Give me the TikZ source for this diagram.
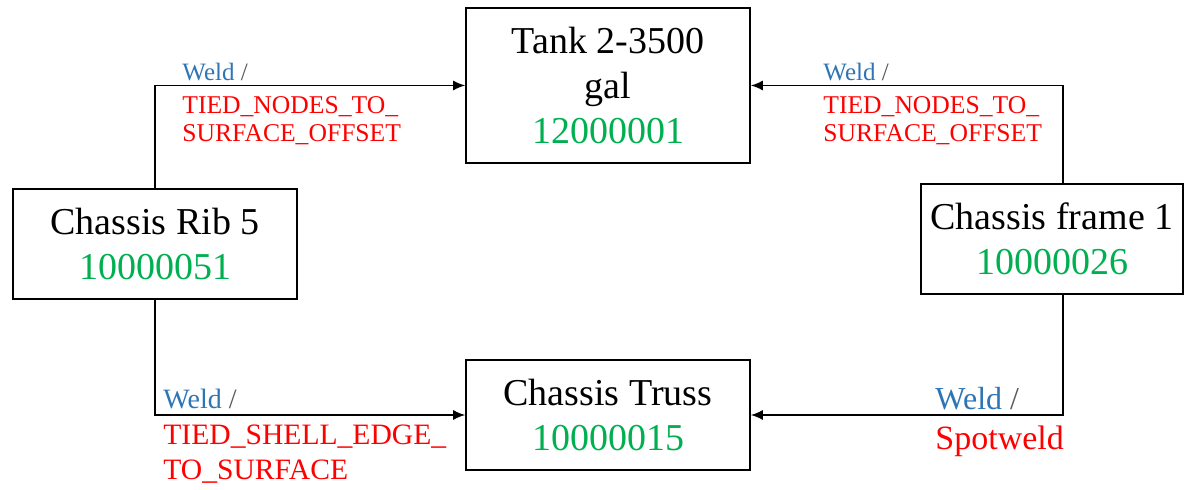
\documentclass[tikz,border=0pt]{standalone}
\usepackage{fontspec}
\setmainfont{Liberation Serif}
\usetikzlibrary{positioning, arrows.meta}
\definecolor{weldblue}{RGB}{46,117,182}
\definecolor{idgreen}{RGB}{0,176,80}
\definecolor{typered}{RGB}{255,0,0}
\definecolor{slashgray}{RGB}{89,89,89}

\begin{document}
\begin{tikzpicture}[x=0.5pt, y=-0.5pt,
        part/.style={draw, line width=0.8pt, align=center, inner sep=0pt, font=\fontsize{19}{22.5}\selectfont},
        weld/.style={-{Latex[length=6pt,width=5pt]}, line width=0.8pt},
        lbl/.style={anchor=base west, inner sep=0pt, align=left}]
        \useasboundingbox (0,0) rectangle (1188,490);
        %disegno parti
        \node[part, minimum width=142pt, minimum height=77.5pt] (tank) at (608,85.5) {Tank 2-3500\\gal\\\textcolor{idgreen}{12000001}};
        \node[part, minimum width=142pt, minimum height=55pt] (rib) at (155,244) {Chassis Rib 5\\\textcolor{idgreen}{10000051}};
        \node[part, minimum width=131pt, minimum height=55pt] (frame) at (1052,239) {Chassis frame 1\\\textcolor{idgreen}{10000026}};
        \node[part, minimum width=142pt, minimum height=55pt] (truss) at (608,415) {Chassis Truss\\\textcolor{idgreen}{10000015}};
        %disegno collegamenti
        \draw[weld] (rib.north) |- (tank.west);
        \draw[weld] ([xshift=5.5pt]frame.north) |- (tank.east);
        \draw[weld] (rib.south) |- (truss.west);
        \draw[weld] ([xshift=5.5pt]frame.south) |- (truss.east);
        %disegno etichette (base = ultima riga)
        \node[lbl, font=\fontsize{12.5}{14}\selectfont] (weldtl) at (182,81) {\textcolor{weldblue}{Weld} \textcolor{slashgray}{/}};
        \node[lbl, font=\fontsize{12.8}{14}\selectfont, text=typered] (typetl) at (182,142) {TIED\_NODES\_TO\_\\SURFACE\_OFFSET};
        \node[lbl, font=\fontsize{12.5}{14}\selectfont] (weldtr) at (823,81) {\textcolor{weldblue}{Weld} \textcolor{slashgray}{/}};
        \node[lbl, font=\fontsize{12.8}{14}\selectfont, text=typered] (typetr) at (823,142) {TIED\_NODES\_TO\_\\SURFACE\_OFFSET};
        \node[lbl, font=\fontsize{14}{17.5}\selectfont] (weldbl) at (163,409) {\textcolor{weldblue}{Weld} \textcolor{slashgray}{/}};
        \node[lbl, font=\fontsize{14.8}{17.5}\selectfont, text=typered] (typebl) at (163,480) {TIED\_SHELL\_EDGE\_\\TO\_SURFACE};
        \node[lbl, font=\fontsize{16}{19}\selectfont] (weldbr) at (935,410) {\textcolor{weldblue}{Weld} \textcolor{slashgray}{/}};
        \node[lbl, font=\fontsize{17}{19}\selectfont, text=typered] (typebr) at (935,450) {Spotweld};
    \end{tikzpicture}
\end{document}
